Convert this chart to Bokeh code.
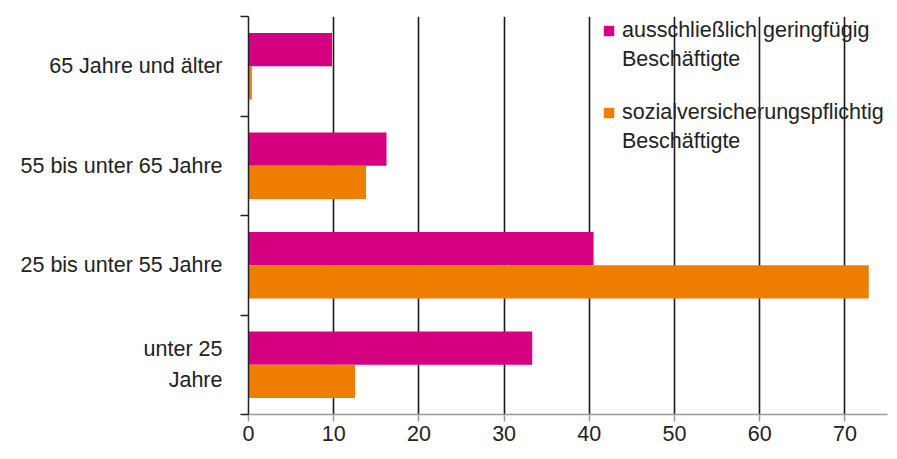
from bokeh.plotting import figure
from bokeh.models import (ColumnDataSource, Range1d, FixedTicker, Legend, LegendItem)
from bokeh.transform import dodge
from bokeh.embed import file_html
from bokeh.resources import INLINE

# Data (bottom to top)
categories = ["unter 25\nJahre", "25 bis unter 55 Jahre", "55 bis unter 65 Jahre", "65 Jahre und älter"]
geringfuegig = [33.3, 40.5, 16.2, 9.8]
sozialvers = [12.5, 72.8, 13.8, 0.4]
x_ticks = [0, 10, 20, 30, 40, 50, 60, 70]
series_labels = [["ausschließlich geringfügig", "Beschäftigte"],
                 ["sozialversicherungspflichtig", "Beschäftigte"]]

MAGENTA = "#D5007F"
ORANGE = "#EF7D00"
FONT = "Liberation Sans"
FS = "21.5px"
TXT = "#222222"

centers = [i + 0.5 for i in range(len(categories))]
src = ColumnDataSource(dict(y=centers, g=geringfuegig, s=sozialvers))

p = figure(width=889, height=451, output_backend="svg", toolbar_location=None,
           x_range=Range1d(0, 75), y_range=Range1d(0, len(categories)),
           min_border_left=248, min_border_right=2, min_border_top=16, min_border_bottom=37)
p.outline_line_color = None
p.background_fill_color = "white"

bh = 1.0 / 3
r1 = p.hbar(y=dodge("y", bh / 2), right="g", left=0, height=bh, source=src,
            fill_color=MAGENTA, line_color=None)
r2 = p.hbar(y=dodge("y", -bh / 2), right="s", left=0, height=bh, source=src,
            fill_color=ORANGE, line_color=None)
# empty, invisible renderer used only to hold the second legend text line
blank = p.hbar(y=[], right=[], left=0, height=bh, fill_alpha=0, line_alpha=0)

# x axis
xa = p.xaxis[0]
xa.ticker = FixedTicker(ticks=x_ticks)
xa.axis_line_color = "#9a9a9a"
xa.axis_line_width = 1.5
xa.major_tick_line_color = "#9a9a9a"
xa.major_tick_line_width = 1.5
xa.major_tick_in = 0
xa.major_tick_out = 7
xa.minor_tick_line_color = None
xa.major_label_standoff = 4
xa.major_label_text_font = FONT
xa.major_label_text_font_size = FS
xa.major_label_text_color = TXT

# y axis: labels at band centers, tick marks at band boundaries
ya = p.yaxis[0]
ya.ticker = FixedTicker(ticks=centers, minor_ticks=list(range(len(categories) + 1)))
ya.major_label_overrides = {c: lab for c, lab in zip(centers, categories)}
ya.major_tick_line_color = None
ya.major_tick_in = 0
ya.major_tick_out = 0
ya.minor_tick_line_color = TXT
ya.minor_tick_line_width = 1.5
ya.minor_tick_in = 0
ya.minor_tick_out = 8
ya.axis_line_color = TXT
ya.axis_line_width = 1.5
ya.major_label_standoff = 18
ya.major_label_text_font = FONT
ya.major_label_text_font_size = FS
ya.major_label_text_color = TXT
ya.major_label_text_line_height = 1.3

# grids
p.ygrid.grid_line_color = None
p.xgrid.ticker = FixedTicker(ticks=x_ticks[1:])
p.xgrid.grid_line_color = "#1a1a1a"
p.xgrid.grid_line_width = 1.6


def make_legend(lines, renderer, loc):
    return Legend(items=[LegendItem(label=lines[0], renderers=[renderer]),
                         LegendItem(label=lines[1], renderers=[blank])],
                  location=loc, padding=0, margin=0, spacing=4,
                  glyph_width=13, glyph_height=13, label_standoff=7,
                  border_line_color=None, background_fill_alpha=0,
                  label_text_font=FONT, label_text_font_size="21.5px",
                  label_text_color=TXT)


p.add_layout(make_legend(series_labels[0], r1, (354, 342)))
p.add_layout(make_legend(series_labels[1], r2, (354, 260)))

open("out.html", "w").write(file_html(p, INLINE))
